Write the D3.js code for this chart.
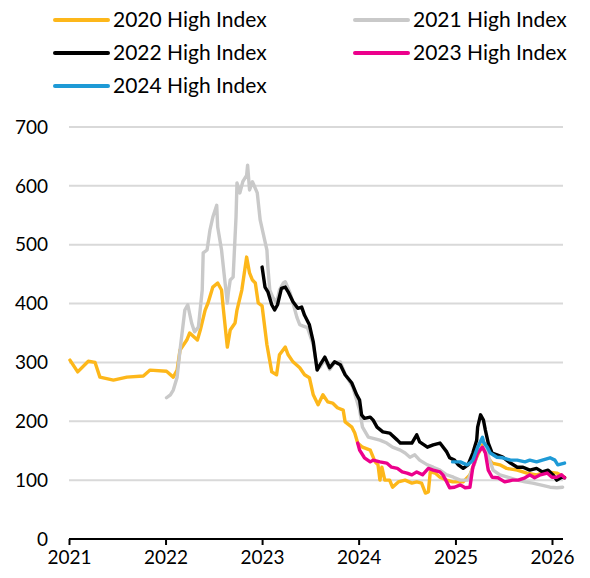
<!DOCTYPE html>
<html>
<head>
<meta charset="utf-8">
<script src="https://cdn.jsdelivr.net/npm/d3@7"></script>
<style>
  html, body { margin: 0; padding: 0; background: #ffffff; }
  svg { display: block; font-family: Lato, "Open Sans", sans-serif; }
</style>
</head>
<body>
<svg id="chart" width="590" height="578"></svg>
<script>
// Series values: [decimal year, index value]
const series2020 = [
  [2021.01,304],[2021.09,284],[2021.20,302],[2021.27,300],[2021.32,275],[2021.46,270],[2021.60,275],
  [2021.77,277],[2021.84,287],[2022.01,285],[2022.08,275],[2022.12,287],[2022.15,321],[2022.22,338],
  [2022.25,350],[2022.33,338],[2022.36,355],[2022.41,389],[2022.44,401],[2022.49,428],[2022.54,435],
  [2022.58,423],[2022.60,389],[2022.64,326],[2022.67,355],[2022.72,367],[2022.74,389],[2022.79,423],
  [2022.84,479],[2022.87,452],[2022.90,440],[2022.93,435],[2022.96,401],[2023.00,396],[2023.05,330],
  [2023.10,284],[2023.15,279],[2023.18,313],[2023.24,326],[2023.27,313],[2023.32,301],[2023.39,291],
  [2023.44,279],[2023.49,274],[2023.53,245],[2023.58,228],[2023.63,245],[2023.68,233],[2023.73,231],
  [2023.78,223],[2023.84,219],[2023.86,199],[2023.93,190],[2023.96,180],[2023.99,163],[2024.04,156],
  [2024.12,151],[2024.17,131],[2024.20,126],[2024.22,100],[2024.24,122],[2024.27,100],[2024.32,100],
  [2024.35,88],[2024.41,97],[2024.48,100],[2024.55,95],[2024.60,97],[2024.65,95],[2024.69,78],
  [2024.72,80],[2024.74,114],[2024.79,112],[2024.84,105],[2024.91,100],[2024.97,97],[2025.08,97],
  [2025.15,109],[2025.22,139],[2025.28,160],[2025.33,139],[2025.38,129],[2025.46,126],[2025.53,120],
  [2025.64,117],[2025.74,112],[2025.84,109],[2025.95,114],[2026.05,112],[2026.13,105]
];
const series2021 = [
  [2022.01,240],[2022.05,245],[2022.08,253],[2022.12,275],[2022.15,321],[2022.20,389],[2022.23,398],
  [2022.27,367],[2022.30,352],[2022.34,360],[2022.38,423],[2022.39,486],[2022.43,491],[2022.46,525],
  [2022.49,547],[2022.53,567],[2022.54,530],[2022.58,491],[2022.61,445],[2022.64,401],[2022.65,418],
  [2022.67,440],[2022.70,445],[2022.73,547],[2022.74,605],[2022.77,588],[2022.80,607],[2022.84,618],
  [2022.85,635],[2022.87,593],[2022.90,607],[2022.95,588],[2022.98,542],[2023.01,520],[2023.05,491],
  [2023.06,462],[2023.08,423],[2023.11,411],[2023.15,401],[2023.18,423],[2023.22,435],[2023.24,437],
  [2023.29,418],[2023.32,401],[2023.36,377],[2023.39,364],[2023.42,362],[2023.47,359],[2023.53,330],
  [2023.57,290],[2023.60,292],[2023.65,305],[2023.70,288],[2023.75,300],[2023.81,301],[2023.86,280],
  [2023.94,258],[2024.01,219],[2024.04,190],[2024.10,173],[2024.15,171],[2024.22,168],[2024.29,163],
  [2024.35,156],[2024.43,151],[2024.48,146],[2024.53,139],[2024.58,143],[2024.63,134],[2024.71,126],
  [2024.77,122],[2024.84,117],[2024.91,109],[2024.98,105],[2025.05,100],[2025.13,100],[2025.20,129],
  [2025.25,163],[2025.29,168],[2025.33,146],[2025.39,117],[2025.46,109],[2025.54,105],[2025.64,100],
  [2025.72,97],[2025.80,95],[2025.88,92],[2025.98,88],[2026.05,87],[2026.11,88]
];
const series2022 = [
  [2023.00,462],[2023.03,428],[2023.06,420],[2023.10,398],[2023.13,389],[2023.16,398],[2023.20,426],
  [2023.24,428],[2023.27,420],[2023.32,403],[2023.37,392],[2023.41,394],[2023.44,380],[2023.49,364],
  [2023.53,335],[2023.57,287],[2023.60,296],[2023.65,309],[2023.70,291],[2023.75,301],[2023.81,296],
  [2023.86,279],[2023.93,265],[2023.98,245],[2024.01,236],[2024.03,211],[2024.06,205],[2024.12,207],
  [2024.15,202],[2024.19,190],[2024.25,182],[2024.32,180],[2024.40,168],[2024.43,163],[2024.50,163],
  [2024.55,163],[2024.60,177],[2024.63,165],[2024.71,156],[2024.77,160],[2024.84,163],[2024.91,148],
  [2024.94,138],[2024.99,134],[2025.03,126],[2025.08,120],[2025.13,126],[2025.18,146],[2025.22,168],
  [2025.23,190],[2025.26,211],[2025.29,202],[2025.31,185],[2025.34,163],[2025.38,146],[2025.43,143],
  [2025.49,139],[2025.57,129],[2025.64,122],[2025.70,122],[2025.77,117],[2025.84,120],[2025.90,114],
  [2025.96,117],[2026.01,109],[2026.05,100],[2026.10,105],[2026.13,104]
];
const series2023 = [
  [2023.99,163],[2024.01,151],[2024.06,138],[2024.12,131],[2024.15,134],[2024.22,131],[2024.29,129],
  [2024.34,122],[2024.40,120],[2024.45,114],[2024.50,112],[2024.55,109],[2024.60,114],[2024.66,109],
  [2024.72,120],[2024.77,117],[2024.84,114],[2024.87,109],[2024.91,97],[2024.94,87],[2024.99,88],
  [2025.05,92],[2025.10,87],[2025.15,88],[2025.18,122],[2025.23,146],[2025.28,156],[2025.31,146],
  [2025.34,117],[2025.38,105],[2025.44,104],[2025.51,97],[2025.59,100],[2025.65,100],[2025.72,104],
  [2025.77,109],[2025.82,104],[2025.88,109],[2025.95,112],[2026.00,105],[2026.05,105],[2026.10,109],
  [2026.13,104]
];
const series2024 = [
  [2024.97,131],[2025.05,131],[2025.12,126],[2025.15,129],[2025.18,134],[2025.23,156],[2025.28,173],
  [2025.29,165],[2025.33,156],[2025.36,146],[2025.43,139],[2025.49,138],[2025.57,134],[2025.64,134],
  [2025.72,131],[2025.77,134],[2025.84,131],[2025.90,134],[2025.98,138],[2026.03,134],[2026.06,126],
  [2026.13,129]
];

const seriesNames = ["2020 High Index", "2021 High Index", "2022 High Index", "2023 High Index", "2024 High Index"];
const seriesColors = ["#FDB71A", "#C9C9C9", "#000000", "#EC008C", "#1E9AD6"];
const yTicks = [0, 100, 200, 300, 400, 500, 600, 700];
const xTickYears = [2021, 2022, 2023, 2024, 2025, 2026];

const allSeries = [series2020, series2021, series2022, series2023, series2024];

// decimal year -> Date
function toDate(dy) {
  const yr = Math.floor(dy);
  const start = new Date(yr, 0, 1), end = new Date(yr + 1, 0, 1);
  return new Date(+start + (dy - yr) * (end - start));
}

const svg = d3.select("#chart");
const plot = { left: 69, right: 563, top: 127, bottom: 539 };

const x = d3.scaleTime()
  .domain([toDate(2021), toDate(2026.114)])
  .range([plot.left, plot.right]);
const y = d3.scaleLinear()
  .domain([0, 700])
  .range([plot.bottom, plot.top]);

// horizontal gridlines
svg.append("g")
  .selectAll("line")
  .data(yTicks.filter(d => d > 0))
  .join("line")
  .attr("x1", plot.left).attr("x2", plot.right)
  .attr("y1", d => y(d)).attr("y2", d => y(d))
  .attr("stroke", "#D9D9D9")
  .attr("stroke-width", 2);

// y tick labels
svg.append("g")
  .selectAll("text")
  .data(yTicks)
  .join("text")
  .attr("x", 48)
  .attr("y", d => y(d))
  .attr("dy", "0.35em")
  .attr("text-anchor", "end")
  .attr("font-size", 19)
  .attr("fill", "#000")
  .text(d => d);

// x axis
const xAxis = d3.axisBottom(x)
  .tickValues(xTickYears.map(toDate))
  .tickFormat(d3.timeFormat("%Y"))
  .tickSize(6)
  .tickPadding(6);
const gx = svg.append("g")
  .attr("transform", `translate(0,${plot.bottom})`)
  .call(xAxis);
gx.select(".domain").attr("stroke", "#000").attr("stroke-width", 2)
  .attr("d", `M${plot.left},0H${plot.right}`);
gx.selectAll(".tick line").attr("stroke", "#000").attr("stroke-width", 2);
gx.selectAll(".tick text")
  .attr("font-size", 19)
  .attr("font-family", "Lato, 'Open Sans', sans-serif")
  .attr("fill", "#000");

// series lines
const line = d3.line()
  .x(d => x(toDate(d[0])))
  .y(d => y(d[1]));

svg.append("g")
  .selectAll("path")
  .data(allSeries)
  .join("path")
  .attr("d", d => line(d))
  .attr("fill", "none")
  .attr("stroke", (d, i) => seriesColors[i])
  .attr("stroke-width", 3.4)
  .attr("stroke-linejoin", "round")
  .attr("stroke-linecap", "round");

// legend: two columns, three rows
const legend = svg.append("g");
const items = legend.selectAll("g")
  .data(seriesNames)
  .join("g")
  .attr("transform", (d, i) => `translate(${i % 2 === 0 ? 55 : 355},${20 + Math.floor(i / 2) * 33})`);
items.append("line")
  .attr("x1", 0).attr("x2", 53)
  .attr("y1", 0).attr("y2", 0)
  .attr("stroke", (d, i) => seriesColors[i])
  .attr("stroke-width", 4)
  .attr("stroke-linecap", "round");
items.append("text")
  .attr("x", 58)
  .attr("y", 0)
  .attr("dy", "0.35em")
  .attr("font-size", 21)
  .attr("fill", "#000")
  .text(d => d);
</script>
</body>
</html>
